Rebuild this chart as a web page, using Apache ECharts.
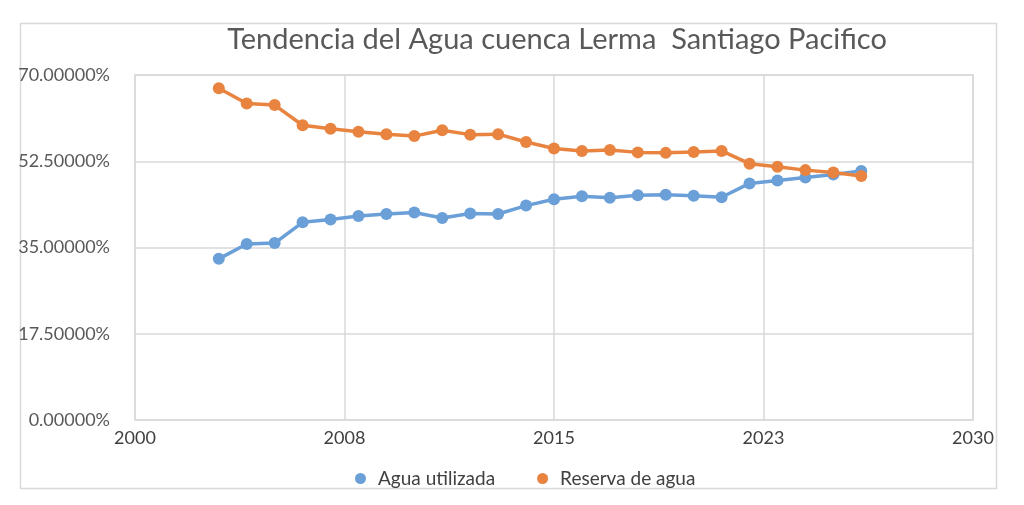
<!DOCTYPE html>
<html>
<head>
<meta charset="utf-8">
<script src="https://cdn.jsdelivr.net/npm/echarts@6/dist/echarts.min.js"></script>
<style>
html,body{margin:0;padding:0;background:#fff;}
#chart{width:1024px;height:505px;}
</style>
</head>
<body>
<div id="chart"></div>
<script>
// Data (values in percent)
const years = [2003,2004,2005,2006,2007,2008,2009,2010,2011,2012,2013,2014,2015,2016,2017,2018,2019,2020,2021,2022,2023,2024,2025,2026];
const aguaUtilizada = [32.7,35.7,35.9,40.1,40.7,41.4,41.8,42.1,41.0,41.9,41.8,43.5,44.8,45.4,45.1,45.6,45.7,45.5,45.2,48.0,48.6,49.2,49.8,50.5];
const reservaAgua = [67.3,64.2,63.9,59.8,59.1,58.5,58.0,57.6,58.8,57.9,58.0,56.4,55.1,54.6,54.8,54.3,54.2,54.4,54.6,52.0,51.4,50.7,50.2,49.5];
const xTickLabels = ['2000','2008','2015','2023','2030'];
const yTickLabels = ['0.00000%','17.50000%','35.00000%','52.50000%','70.00000%'];
const seriesNames = ['Agua utilizada','Reserva de agua'];
const titleText = 'Tendencia del Agua cuenca Lerma  Santiago Pacifico';

const baseYear = 2000;
const xStep = 7.5;
const yStep = 17.5;

const toPairs = (vals) => vals.map((v, i) => [years[i] - baseYear, v]);

const chart = echarts.init(document.getElementById('chart'));
const font = 'Lato, "Open Sans", sans-serif';
chart.setOption({
  animation: false,
  backgroundColor: '#fff',
  title: {
    text: titleText,
    left: 552, top: 20, textAlign: 'center',
    textStyle: {fontFamily: font, fontSize: 29, fontWeight: 'normal', color: '#595959'}
  },
  graphic: [{
    type: 'rect', left: 18, top: 21, z: -1,
    shape: {width: 976, height: 465},
    style: {fill: 'none', stroke: '#d9d9d9', lineWidth: 1.5}
  }],
  legend: {
    data: seriesNames,
    left: 350, top: 464,
    itemWidth: 11, itemHeight: 11, itemGap: 42,
    icon: 'circle',
    textStyle: {fontFamily: font, fontSize: 19, color: '#404040', padding: [0, 0, 0, 7]}
  },
  grid: {left: 135, right: 51, top: 75, bottom: 85, show: true, borderColor: '#d9d9d9', borderWidth: 1.5},
  xAxis: {
    type: 'value', min: 0, max: 30, interval: xStep,
    axisLine: {show: false},
    axisTick: {show: false},
    splitLine: {show: true, lineStyle: {color: '#d9d9d9', width: 1.5}},
    axisLabel: {
      fontFamily: font, fontSize: 18, color: '#404040', margin: 9,
      formatter: (v) => xTickLabels[Math.round(v / xStep)]
    }
  },
  yAxis: {
    type: 'value', min: 0, max: 70, interval: yStep,
    axisLine: {show: false},
    axisTick: {show: false},
    splitLine: {show: true, lineStyle: {color: '#d9d9d9', width: 1.5}},
    axisLabel: {
      fontFamily: font, fontSize: 18, color: '#595959', margin: 25,
      formatter: (v) => yTickLabels[Math.round(v / yStep)]
    }
  },
  series: [
    {
      name: seriesNames[0], type: 'line', data: toPairs(aguaUtilizada),
      symbol: 'circle', symbolSize: 12,
      lineStyle: {color: '#6A9FD8', width: 3.5},
      itemStyle: {color: '#6A9FD8'}
    },
    {
      name: seriesNames[1], type: 'line', data: toPairs(reservaAgua),
      symbol: 'circle', symbolSize: 12,
      lineStyle: {color: '#E8843F', width: 3.5},
      itemStyle: {color: '#E8843F'}
    }
  ]
});
</script>
</body>
</html>
